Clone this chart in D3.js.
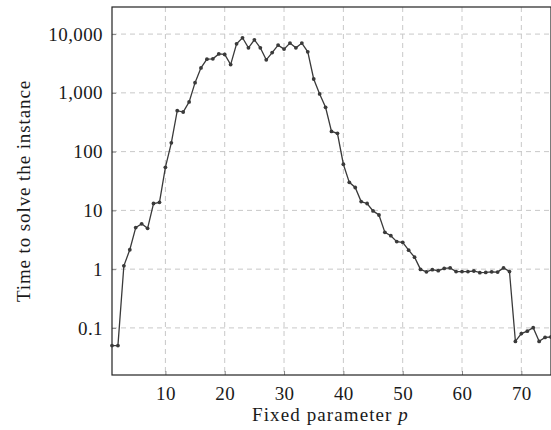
<!DOCTYPE html>
<html>
<head>
<meta charset="utf-8">
<script src="https://cdn.jsdelivr.net/npm/d3@7"></script>
<style>
  body { margin: 0; background: #fff; }
  text { font-family: "Liberation Serif", "DejaVu Serif", serif; fill: #1a1a1a; }
</style>
</head>
<body>
<div id="chart"></div>
<script>
// fixed parameter p
var pValues = [1, 2, 3, 4, 5, 6, 7, 8, 9, 10, 11, 12, 13, 14, 15, 16, 17, 18, 19, 20,
    21, 22, 23, 24, 25, 26, 27, 28, 29, 30, 31, 32, 33, 34, 35, 36, 37, 38, 39, 40,
    41, 42, 43, 44, 45, 46, 47, 48, 49, 50, 51, 52, 53, 54, 55, 56, 57, 58, 59, 60,
    61, 62, 63, 64, 65, 66, 67, 68, 69, 70, 71, 72, 73, 74, 75];

// time to solve the instance
var solveTimes = [0.050, 0.050, 1.14, 2.14, 5.1, 5.9, 4.95, 13.1, 13.7, 54,
    141, 497, 472, 700, 1490, 2660, 3740, 3800, 4600, 4500,
    3030, 6820, 8650, 5840, 8000, 5840, 3650, 4850, 6490, 5550,
    7020, 5840, 7020, 4990, 1720, 957, 567, 221, 205, 61,
    30, 24.5, 14.1, 13.1, 9.8, 8.35, 4.23, 3.71, 2.94, 2.86,
    2.1, 1.6, 0.99, 0.90, 0.98, 0.94, 1.03, 1.05, 0.91, 0.91,
    0.91, 0.93, 0.87, 0.88, 0.90, 0.89, 1.05, 0.91, 0.059, 0.080,
    0.088, 0.101, 0.059, 0.069, 0.070];

var xTicks = [10, 20, 30, 40, 50, 60, 70];
var yTicks = [0.1, 1, 10, 100, 1000, 10000];
var yTickLabels = ["0.1", "1", "10", "100", "1,000", "10,000"];

var data = pValues.map(function(p, i) { return { p: p, t: solveTimes[i] }; });

var margin = { top: 7, right: 0, bottom: 55, left: 112 };
var width = 551 - margin.left - margin.right,
    height = 430 - margin.top - margin.bottom;

var svg = d3.select("#chart").append("svg")
    .attr("width", 551)
    .attr("height", 430)
    .append("g")
    .attr("transform", "translate(" + margin.left + "," + margin.top + ")");

var x = d3.scaleLinear().domain([1, 75]).range([0, width]);
var y = d3.scaleLog().domain([0.0158, 28900]).range([height, 0]);

// grid
svg.append("g").selectAll("line.vgrid")
    .data(xTicks).enter().append("line")
    .attr("x1", function(d) { return x(d); })
    .attr("x2", function(d) { return x(d); })
    .attr("y1", 0).attr("y2", height)
    .attr("stroke", "#c8c8c8").attr("stroke-width", 1)
    .attr("stroke-dasharray", "5,4");

svg.append("g").selectAll("line.hgrid")
    .data(yTicks).enter().append("line")
    .attr("x1", 0).attr("x2", width)
    .attr("y1", function(d) { return y(d); })
    .attr("y2", function(d) { return y(d); })
    .attr("stroke", "#c8c8c8").attr("stroke-width", 1)
    .attr("stroke-dasharray", "5,4");

// axes
var xAxis = d3.axisBottom(x).tickValues(xTicks).tickSize(-4).tickPadding(12)
    .tickFormat(d3.format("d"));
var yAxis = d3.axisLeft(y).tickValues(yTicks).tickSize(-4).tickPadding(9)
    .tickFormat(function(d, i) { return yTickLabels[i]; });

var gx = svg.append("g").attr("transform", "translate(0," + height + ")").call(xAxis);
var gy = svg.append("g").call(yAxis);
[gx, gy].forEach(function(g) {
    g.select(".domain").remove();
    g.selectAll(".tick line").attr("stroke", "#888");
    g.selectAll(".tick text").style("font-size", "19px")
        .style("font-family", "'Liberation Serif', serif")
        .style("letter-spacing", "0.4px")
        .attr("fill", "#1a1a1a");
});

// frame
svg.append("rect")
    .attr("x", 0).attr("y", 0)
    .attr("width", width).attr("height", height)
    .attr("fill", "none").attr("stroke", "#222").attr("stroke-width", 1.2);

// series
var line = d3.line()
    .x(function(d) { return x(d.p); })
    .y(function(d) { return y(d.t); });

svg.append("path")
    .datum(data)
    .attr("d", line)
    .attr("fill", "none")
    .attr("stroke", "#3a3a3a")
    .attr("stroke-width", 1.3);

svg.selectAll(".dot")
    .data(data).enter().append("circle")
    .attr("class", "dot")
    .attr("cx", function(d) { return x(d.p); })
    .attr("cy", function(d) { return y(d.t); })
    .attr("r", 1.9)
    .attr("fill", "#3a3a3a");

// labels
var xl = svg.append("text")
    .attr("x", width / 2 - 1)
    .attr("y", height + 46)
    .attr("text-anchor", "middle")
    .style("font-size", "19px")
    .style("letter-spacing", "1.1px");
xl.append("tspan").text("Fixed parameter ");
xl.append("tspan").style("font-style", "italic").text("p");

svg.append("text")
    .attr("transform", "translate(" + (-82) + "," + (height / 2) + ") rotate(-90)")
    .attr("text-anchor", "middle")
    .style("font-size", "19px")
    .style("letter-spacing", "0.9px")
    .text("Time to solve the instance");
</script>
</body>
</html>
